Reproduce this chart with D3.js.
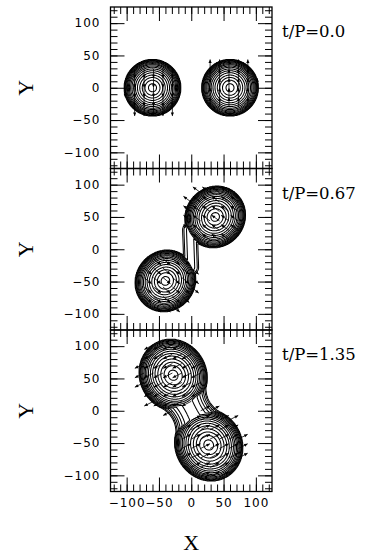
<!DOCTYPE html>
<html>
<head>
<meta charset="utf-8">
<script src="https://cdn.jsdelivr.net/npm/d3@7"></script>
<style>
  body { margin: 0; background: #fff; }
  text { fill: #000; }
</style>
</head>
<body>
<svg id="chart" width="366" height="558"></svg>
<script>
// panel labels (orbital phase)
const phases = ['t/P=0.0', 't/P=0.67', 't/P=1.35'];

// star centres per panel: [star 1, star 2]
const starX = [[-60, 60], [-40, 37], [-28, 27]];
const starY = [[0, 0], [-49, 50], [55, -53]];
// semi-axes: along the line to the companion / across it
const starA = [[44, 44], [49, 49], [57, 57]];
const starB = [[44, 44], [46, 46], [52, 52]];
// velocity arrow per star (x, y, in plot units)
const starVx = [[0, 0], [11.6, -12.1], [-14.3, 14.3]];
const starVy = [[-14.6, 14.6], [-9.5, 8.9], [-7.3, 7.3]];

// mass-transfer neck between the stars: ends, half-width (middle / ends), strength
const neckX0 = [0, -2, -12];
const neckY0 = [0, 30, 23];
const neckX1 = [0, 0, 11];
const neckY1 = [0, -28, -21];
const neckWmid = [1, 12, 32];
const neckWend = [1, 12, 40];
const neckAmp = [0, 0.1, 0.3];

// density contour levels (fraction of central density)
const levels = [0.01, 0.04, 0.08, 0.12, 0.17, 0.22, 0.28, 0.34, 0.41, 0.48, 0.56, 0.64, 0.72, 0.8, 0.87, 0.93, 0.98];

// tick values
const majorTicks = [-100, -50, 0, 50, 100];
const minorTicks = d3.range(-120, 121, 10);
// velocity sampling grid
const gridPts = d3.range(-8, 9).map(k => k * 14.6);

const left = 110.5, top0 = 7, size = 161.5;
const svg = d3.select('#chart');

const x = d3.scaleLinear().domain([-125, 125]).range([left, left + size]);

function starDens(p, i, px, py) {
  const j = 1 - i;
  let ux = starX[p][j] - starX[p][i], uy = starY[p][j] - starY[p][i];
  const len = Math.hypot(ux, uy);
  ux /= len; uy /= len;
  const dx = px - starX[p][i], dy = py - starY[p][i];
  const u = dx * ux + dy * uy, v = -dx * uy + dy * ux;
  const r2 = (u / starA[p][i]) ** 2 + (v / starB[p][i]) ** 2;
  return r2 < 1 ? 1 - r2 : 0;
}

function neckDens(p, px, py) {
  if (!neckAmp[p]) return 0;
  const ax = neckX0[p], ay = neckY0[p], bx = neckX1[p], by = neckY1[p];
  const ex = bx - ax, ey = by - ay;
  let t = ((px - ax) * ex + (py - ay) * ey) / (ex * ex + ey * ey);
  t = Math.max(0, Math.min(1, t));
  const w = neckWmid[p] + (neckWend[p] - neckWmid[p]) * (2 * t - 1) ** 2;
  const d = Math.hypot(px - ax - t * ex, py - ay - t * ey);
  return d < w ? neckAmp[p] * (1 - (d / w) ** 2) : 0;
}

const step = 1, n = 251;

phases.forEach((label, p) => {
  const top = top0 + p * size;
  const y = d3.scaleLinear().domain([-125, 125]).range([top + size, top]);
  const g = svg.append('g');

  // density grid -> contours
  const values = new Float64Array(n * n);
  for (let r = 0; r < n; r++) {
    for (let c = 0; c < n; c++) {
      const px = -125 + c * step, py = 125 - r * step;
      values[r * n + c] = Math.max(starDens(p, 0, px, py), starDens(p, 1, px, py), neckDens(p, px, py));
    }
  }
  const contours = d3.contours().size([n, n]).thresholds(levels)(values);
  const proj = d3.geoTransform({
    point(gx, gy) {
      this.stream.point(x(-125 + (gx - 0.5) * step), y(125 - (gy - 0.5) * step));
    }
  });
  g.append('g')
    .selectAll('path')
    .data(contours)
    .enter()
    .append('path')
    .attr('d', d3.geoPath(proj))
    .attr('fill', 'none')
    .attr('stroke', '#000')
    .attr('stroke-width', 1.05);

  // velocity arrows on grid points inside the stars
  const arrows = [];
  gridPts.forEach(gx => gridPts.forEach(gy => {
    const d0 = starDens(p, 0, gx, gy), d1 = starDens(p, 1, gx, gy);
    if (Math.max(d0, d1) <= 0.02) return;
    const i = d0 >= d1 ? 0 : 1;
    arrows.push({ x0: gx, y0: gy, x1: gx + starVx[p][i], y1: gy + starVy[p][i] });
  }));
  const ag = g.append('g');
  ag.selectAll('line')
    .data(arrows)
    .enter()
    .append('line')
    .attr('x1', d => x(d.x0)).attr('y1', d => y(d.y0))
    .attr('x2', d => x(d.x1)).attr('y2', d => y(d.y1))
    .attr('stroke', '#000')
    .attr('stroke-width', 0.8);
  ag.selectAll('path')
    .data(arrows)
    .enter()
    .append('path')
    .attr('d', d => {
      const hx = x(d.x1), hy = y(d.y1);
      let dx = hx - x(d.x0), dy = hy - y(d.y0);
      const l = Math.hypot(dx, dy); dx /= l; dy /= l;
      const bx = hx - dx * 3.5, by = hy - dy * 3.5;
      return `M${hx},${hy}L${bx - dy * 1.6},${by + dx * 1.6}L${bx + dy * 1.6},${by - dx * 1.6}Z`;
    })
    .attr('fill', '#000');

  // ticks on all four sides, pointing in
  const sides = [
    [d3.axisBottom(x), `translate(0,${top + size})`],
    [d3.axisTop(x), `translate(0,${top})`],
    [d3.axisLeft(y), `translate(${left},0)`],
    [d3.axisRight(y), `translate(${left + size},0)`]
  ];
  sides.forEach(([ax, tr]) => {
    g.append('g').attr('transform', tr)
      .call(ax.tickValues(minorTicks).tickSize(-7).tickFormat(''))
      .call(s => s.select('.domain').remove());
    g.append('g').attr('transform', tr)
      .call(ax.tickValues(majorTicks).tickSize(-14).tickFormat(''))
      .call(s => s.select('.domain').remove());
  });
  g.selectAll('.tick line').attr('stroke', '#000').attr('stroke-width', 1);

  // y tick labels
  const yl = g.append('g').attr('transform', `translate(${left},0)`)
    .call(d3.axisLeft(y).tickValues(majorTicks).tickSize(0).tickPadding(10));
  yl.select('.domain').remove();
  yl.selectAll('text')
    .style('font-family', 'DejaVu Sans')
    .style('font-size', '12px')
    .style('letter-spacing', '1px');

  if (p === 2) {
    const xl = g.append('g').attr('transform', `translate(0,${top + size})`)
      .call(d3.axisBottom(x).tickValues(majorTicks).tickSize(0).tickPadding(7));
    xl.select('.domain').remove();
    xl.selectAll('text')
      .style('font-family', 'DejaVu Sans')
      .style('font-size', '12px')
      .style('letter-spacing', '1px');
  }

  // frame
  g.append('rect')
    .attr('x', left).attr('y', top)
    .attr('width', size).attr('height', size)
    .attr('fill', 'none')
    .attr('stroke', '#000')
    .attr('stroke-width', 1.3);

  // Y label
  svg.append('text')
    .attr('transform', `translate(25,${top + size / 2}) rotate(-90)`)
    .attr('text-anchor', 'middle')
    .attr('dominant-baseline', 'central')
    .style('font-family', 'Liberation Serif')
    .style('font-size', '22px')
    .text('Y');

  // phase label
  svg.append('text')
    .attr('x', left + size + 10)
    .attr('y', top + 30)
    .style('font-family', 'DejaVu Serif')
    .style('font-size', '16.5px')
    .text(label);
});

svg.append('text')
  .attr('x', x(0))
  .attr('y', 550)
  .attr('text-anchor', 'middle')
  .style('font-family', 'Liberation Serif')
  .style('font-size', '22px')
  .text('X');
</script>
</body>
</html>
